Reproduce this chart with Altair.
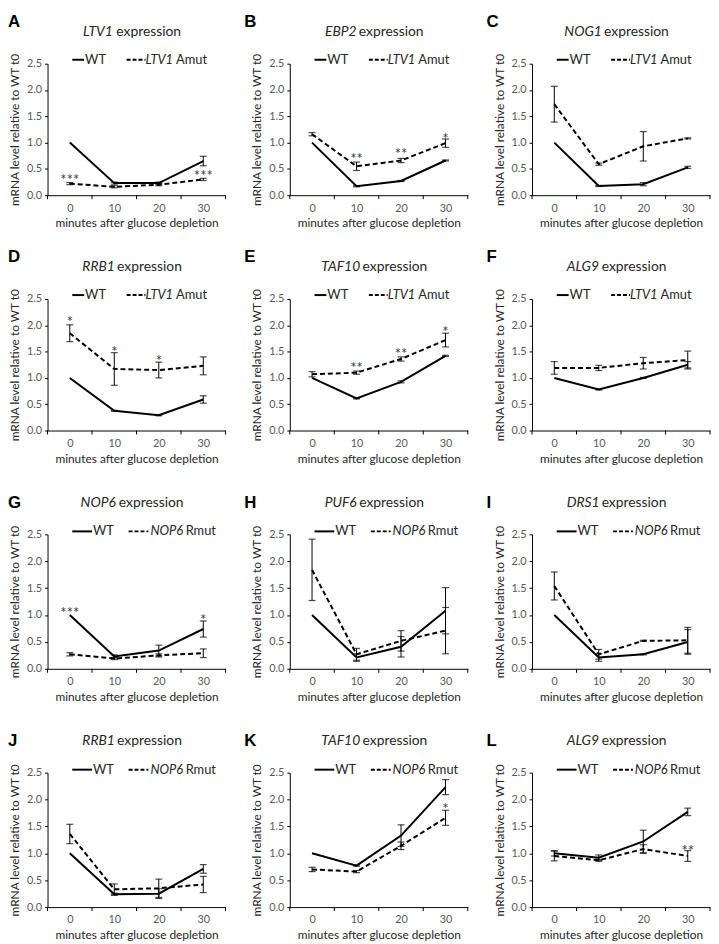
import altair as alt
import pandas as pd

# ---------------- data ----------------
times = [0, 10, 20, 30]
between_ticks = [-5, 5, 15, 25, 35]
y_ticks = [0.0, 0.5, 1.0, 1.5, 2.0, 2.5]

panel_letters = ["A", "B", "C", "D", "E", "F", "G", "H", "I", "J", "K", "L"]
genes = ["LTV1", "EBP2", "NOG1", "RRB1", "TAF10", "ALG9",
         "NOP6", "PUF6", "DRS1", "RRB1", "TAF10", "ALG9"]
mutant_gene = ["LTV1"] * 6 + ["NOP6"] * 6
mutant_suffix = ["Amut"] * 6 + ["Rmut"] * 6

wt_means = [
    [1.00, 0.23, 0.23, 0.65],   # A
    [1.00, 0.17, 0.27, 0.66],   # B
    [1.00, 0.175, 0.21, 0.53],  # C
    [1.00, 0.375, 0.29, 0.59],  # D
    [1.00, 0.61, 0.925, 1.42],  # E
    [1.00, 0.78, 1.00, 1.25],   # F
    [1.00, 0.23, 0.34, 0.74],   # G
    [1.00, 0.21, 0.41, 1.08],   # H
    [1.00, 0.21, 0.27, 0.50],   # I
    [1.00, 0.24, 0.25, 0.71],   # J
    [1.00, 0.77, 1.33, 2.23],   # K
    [1.00, 0.92, 1.22, 1.77],   # L
]
wt_errs = [
    [0.00, 0.02, 0.02, 0.09],
    [0.00, 0.01, 0.01, 0.01],
    [0.00, 0.01, 0.03, 0.02],
    [0.00, 0.01, 0.01, 0.07],
    [0.00, 0.01, 0.02, 0.01],
    [0.00, 0.01, 0.01, 0.06],
    [0.00, 0.03, 0.10, 0.15],
    [0.00, 0.07, 0.19, 0.43],
    [0.00, 0.07, 0.01, 0.23],
    [0.00, 0.02, 0.09, 0.08],
    [0.00, 0.01, 0.20, 0.14],
    [0.05, 0.05, 0.21, 0.07],
]
mut_means = [
    [0.22, 0.16, 0.20, 0.30],
    [1.16, 0.55, 0.66, 0.99],
    [1.73, 0.59, 0.93, 1.08],
    [1.85, 1.17, 1.15, 1.23],
    [1.07, 1.10, 1.36, 1.72],
    [1.19, 1.19, 1.28, 1.34],
    [0.27, 0.19, 0.25, 0.29],
    [1.84, 0.27, 0.52, 0.71],
    [1.54, 0.27, 0.52, 0.53],
    [1.36, 0.33, 0.35, 0.42],
    [0.70, 0.66, 1.14, 1.66],
    [0.95, 0.87, 1.08, 0.95],
]
mut_errs = [
    [0.02, 0.02, 0.02, 0.02],
    [0.03, 0.08, 0.04, 0.08],
    [0.34, 0.02, 0.28, 0.01],
    [0.16, 0.31, 0.15, 0.17],
    [0.05, 0.03, 0.04, 0.13],
    [0.12, 0.05, 0.11, 0.17],
    [0.03, 0.02, 0.03, 0.08],
    [0.57, 0.11, 0.19, 0.43],
    [0.26, 0.09, 0.01, 0.24],
    [0.18, 0.10, 0.17, 0.15],
    [0.04, 0.02, 0.07, 0.14],
    [0.09, 0.02, 0.08, 0.10],
]
stars = [
    [(0, 0.38, "***"), (30, 0.45, "***")],
    [(10, 0.78, "**"), (20, 0.87, "**"), (30, 1.17, "*")],
    [],
    [(0, 2.16, "*"), (10, 1.59, "*"), (20, 1.41, "*")],
    [(10, 1.28, "**"), (20, 1.55, "**"), (30, 1.96, "*")],
    [],
    [(0, 1.12, "***"), (30, 0.99, "*")],
    [],
    [],
    [],
    [(30, 1.92, "*")],
    [(30, 1.14, "**")],
]

# ---------------- style ----------------
FONT = "Lato"
W = 180
DARK = "#262626"
GRAY = "#595959"

EM = {"A": .68, "B": .64, "C": .66, "D": .74, "E": .56, "F": .54, "G": .72,
      "L": .50, "N": .76, "O": .79, "P": .60, "R": .62, "S": .53, "T": .58,
      "U": .72, "V": .68, "0": .58, "1": .58, "2": .58, "6": .58, "9": .58}


def est_w(s, fs):
    return sum(EM.get(c, 0.55) for c in s) * fs * 0.92


one = pd.DataFrame({"k": [0]})


def txt(x, y, s, font=FONT, **kw):
    return alt.Chart(one).mark_text(font=font, **kw).encode(
        x=alt.value(x), y=alt.value(y), text=alt.value(s))


def panel(i):
    top = i < 6
    H = 133 if top else 136
    col = i % 3
    rows = []
    for s, means, errs in (("WT", wt_means[i], wt_errs[i]),
                           ("mut", mut_means[i], mut_errs[i])):
        for t, m, e in zip(times, means, errs):
            rows.append({"t": t, "v": m, "lo": m - e, "hi": m + e, "err": e, "s": s})
    df = pd.DataFrame(rows)

    xs = alt.Scale(domain=[-5, 35], nice=False, zero=False)
    ys = alt.Scale(domain=[0, 2.5], nice=False)
    ytitle = "mRNA level relative to WT  t0" if top else "mRNA level relative to WT t0"
    xax = alt.Axis(values=times, ticks=False, title="minutes after glucose depletion",
                   labelPadding=7, titlePadding=5, format="d")
    yax = alt.Axis(values=y_ticks, format=".1f", title=ytitle, tickSize=3,
                   labelPadding=3, titlePadding=5)
    X = alt.X("t:Q", scale=xs, axis=xax)

    base = alt.Chart(df)
    wt_line = base.transform_filter("datum.s == 'WT'").mark_line(
        color="black", strokeWidth=2).encode(x=X, y=alt.Y("v:Q", scale=ys, axis=yax))
    mut_line = base.transform_filter("datum.s == 'mut'").mark_line(
        color="black", strokeWidth=2, strokeDash=[5, 3]).encode(
        x=X, y=alt.Y("v:Q", scale=ys, axis=yax))
    eb = base.transform_filter("datum.err > 0")
    err_rule = eb.mark_rule(color="black", strokeWidth=1).encode(
        x=X, y=alt.Y("lo:Q", scale=ys, axis=yax), y2="hi:Q")
    cap_lo = eb.mark_tick(orient="horizontal", size=7, thickness=1.2, color="black").encode(
        x=X, y=alt.Y("lo:Q", scale=ys, axis=yax))
    cap_hi = eb.mark_tick(orient="horizontal", size=7, thickness=1.2, color="black").encode(
        x=X, y=alt.Y("hi:Q", scale=ys, axis=yax))

    xt = alt.Chart(pd.DataFrame({"t": between_ticks})).mark_rule(
        color="black", strokeWidth=1).encode(
        x=X, y=alt.value(H), y2=alt.value(H + 4))

    sdf = pd.DataFrame(stars[i], columns=["t", "v", "label"])
    star_layer = alt.Chart(sdf).mark_text(
        font=FONT, fontSize=15, color="#404040", dy=5).encode(
        x=X, y=alt.Y("v:Q", scale=ys, axis=yax), text="label:N")

    # title with italic gene name
    tfs = 14
    g = genes[i]
    gw = est_w(g, tfs)
    gap = 3.5
    total = gw + gap + 66.5
    start = 86 - total / 2
    title_g = txt(start, -32, g, fontSize=tfs, fontStyle="italic", align="left",
                  baseline="middle", color=DARK)
    title_r = txt(start + gw + gap, -32, "expression", fontSize=tfs, align="left",
                  baseline="middle", color=DARK)

    # panel letter
    lx = -40 if col == 0 else -46
    ly = -50 if top else -40
    letter = txt(lx, ly, panel_letters[i], font="Liberation Sans", fontSize=17,
                 fontWeight="bold", align="left", baseline="top", color="black")

    # legend
    lfs = 13
    ly2 = -4 if top else -3
    if top:
        wt_x0, wt_x1, d_x0, d_x1, mg_x = 25, 37, 80, 99, 99
    else:
        wt_x0, wt_x1, d_x0, d_x1, mg_x = 25, 45, 82, 102, 104
    mg = mutant_gene[i]
    leg_wt_line = alt.Chart(one).mark_rule(color="black", strokeWidth=2).encode(
        x=alt.value(wt_x0), x2=alt.value(wt_x1), y=alt.value(ly2))
    leg_wt_txt = txt(wt_x1 + 1, ly2, "WT", fontSize=lfs, align="left",
                     baseline="middle", color=DARK)
    leg_mut_line = alt.Chart(one).mark_rule(color="black", strokeWidth=2,
                                            strokeDash=[4, 2]).encode(
        x=alt.value(d_x0), x2=alt.value(d_x1), y=alt.value(ly2))
    leg_mut_g = txt(mg_x, ly2, mg, fontSize=lfs, fontStyle="italic", align="left",
                    baseline="middle", color=DARK)
    leg_mut_s = txt(mg_x + est_w(mg, lfs) + 3, ly2, mutant_suffix[i], fontSize=lfs,
                    align="left", baseline="middle", color=DARK)

    return alt.layer(
        err_rule, cap_lo, cap_hi, wt_line, mut_line, xt, star_layer,
        title_g, title_r, letter, leg_wt_line, leg_wt_txt, leg_mut_line,
        leg_mut_g, leg_mut_s,
    ).properties(width=W, height=H)


panels = [panel(i) for i in range(12)]

chart = alt.concat(
    *panels, columns=3, spacing={"row": 105, "column": 65},
    bounds="flush", align="each",
).properties(padding=0).configure_view(stroke=None).configure_axis(
    grid=False, domainColor="black", domainWidth=1, tickColor="black",
    labelFont=FONT, titleFont=FONT, labelColor=GRAY, titleColor=DARK,
    labelFontSize=11, titleFontSize=12, titleFontWeight="normal",
)

chart.save("out.html", embed_options={"renderer": "svg", "actions": False})
